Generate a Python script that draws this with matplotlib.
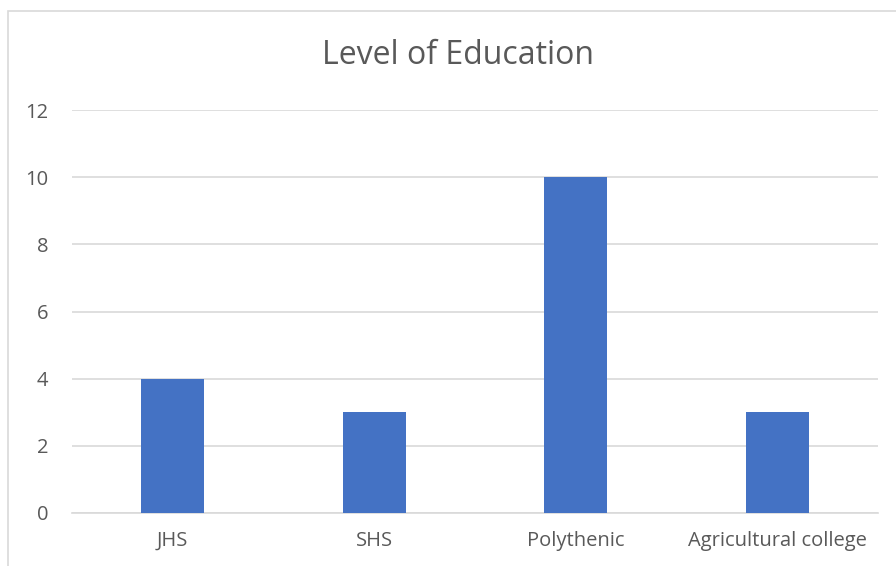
import matplotlib

matplotlib.use("Agg")
import matplotlib.pyplot as plt
from matplotlib.patches import Rectangle
import numpy as np

categories = ["JHS", "SHS", "Polythenic", "Agricultural college"]
counts = [4, 3, 10, 3]
y_ticks = [0, 2, 4, 6, 8, 10, 12]

plt.rcParams["font.family"] = ["Open Sans", "DejaVu Sans"]

W, H = 896, 566
fig = plt.figure(figsize=(W / 100, H / 100), dpi=100)

# chart-area border (only left and top edges visible in the crop)
fig.patches.append(
    Rectangle((8 / W, -0.5), 2.0, 1.5 - 11 / H, transform=fig.transFigure,
              fill=False, edgecolor="#d9d9d9", linewidth=1.2)
)

ax = fig.add_axes([72 / W, 1 - 513 / H, (878 - 72) / W, (513 - 110) / H])
x = np.arange(len(categories))
ax.bar(x, counts, width=0.315, color="#4472C4", zorder=3)

ax.set_xlim(-0.5, len(categories) - 0.5)
ax.set_ylim(0, 12)
ax.set_yticks(y_ticks)
ax.set_xticks(x)
ax.set_xticklabels(categories)
ax.yaxis.grid(True, color="#d9d9d9", linewidth=1.2, zorder=0)
for s in ["top", "right", "left"]:
    ax.spines[s].set_visible(False)
ax.spines["bottom"].set_color("#d9d9d9")
ax.spines["bottom"].set_linewidth(1.2)
ax.tick_params(axis="both", length=0, colors="#595959", labelsize=14.5)
ax.tick_params(axis="y", pad=17)
ax.tick_params(axis="x", pad=13)

fig.text(458 / W, 1 - 56 / H, "Level of Education", ha="center", va="center",
         fontsize=23, color="#595959")

fig.savefig("out.png", dpi=100)
